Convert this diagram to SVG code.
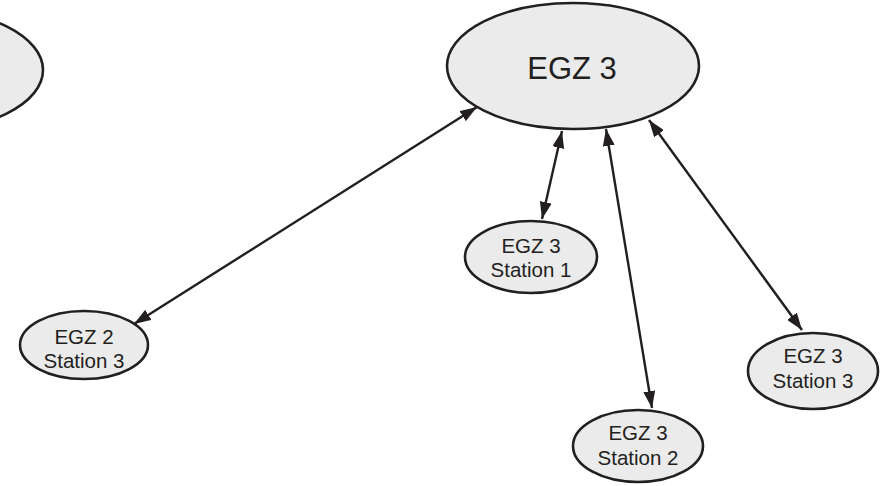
<svg xmlns="http://www.w3.org/2000/svg" width="881" height="486" viewBox="0 0 881 486">
<style>
.node ellipse{fill:#ebebeb;stroke:#231f20;stroke-width:2.6}
.node text{font-family:"Liberation Sans",Arial,sans-serif;fill:#231f20;text-anchor:middle}
.big text{font-size:31px}
.small text{font-size:20.5px}
.edge{stroke:#231f20;stroke-width:2.4;fill:none;marker-start:url(#ah);marker-end:url(#ah)}
</style>
<defs>
<marker id="ah" viewBox="0 0 17 12" refX="17" refY="6" markerWidth="17" markerHeight="12" markerUnits="userSpaceOnUse" orient="auto-start-reverse">
<path d="M0,0 L17,6 L0,12 z" fill="#231f20"/>
</marker>
</defs>
<rect width="881" height="486" fill="#ffffff"/>
<g id="connectors">
<line class="edge" x1="562" y1="131" x2="542" y2="219"/>
<line class="edge" x1="606" y1="129" x2="652" y2="408"/>
<line class="edge" x1="649" y1="120" x2="802" y2="330"/>
<line class="edge" x1="477" y1="107" x2="134" y2="324"/>
</g>
<g id="node-left" class="node big">
<ellipse cx="-83" cy="70" rx="126" ry="62"/>
</g>
<g id="node-egz3" class="node big">
<ellipse cx="573" cy="66" rx="126" ry="63"/>
<text x="572" y="79">EGZ 3</text>
</g>
<g id="node-egz3-s1" class="node small">
<ellipse cx="531" cy="257" rx="66" ry="36"/>
<text x="531" y="253">EGZ 3</text>
<text x="531" y="277">Station 1</text>
</g>
<g id="node-egz3-s2" class="node small">
<ellipse cx="638" cy="446" rx="65" ry="36"/>
<text x="638" y="440">EGZ 3</text>
<text x="638" y="465">Station 2</text>
</g>
<g id="node-egz3-s3" class="node small">
<ellipse cx="813" cy="371" rx="65" ry="38"/>
<text x="813" y="363">EGZ 3</text>
<text x="813" y="388">Station 3</text>
</g>
<g id="node-egz2-s3" class="node small">
<ellipse cx="84" cy="345" rx="64" ry="34"/>
<text x="84" y="344">EGZ 2</text>
<text x="84" y="368">Station 3</text>
</g>
</svg>
